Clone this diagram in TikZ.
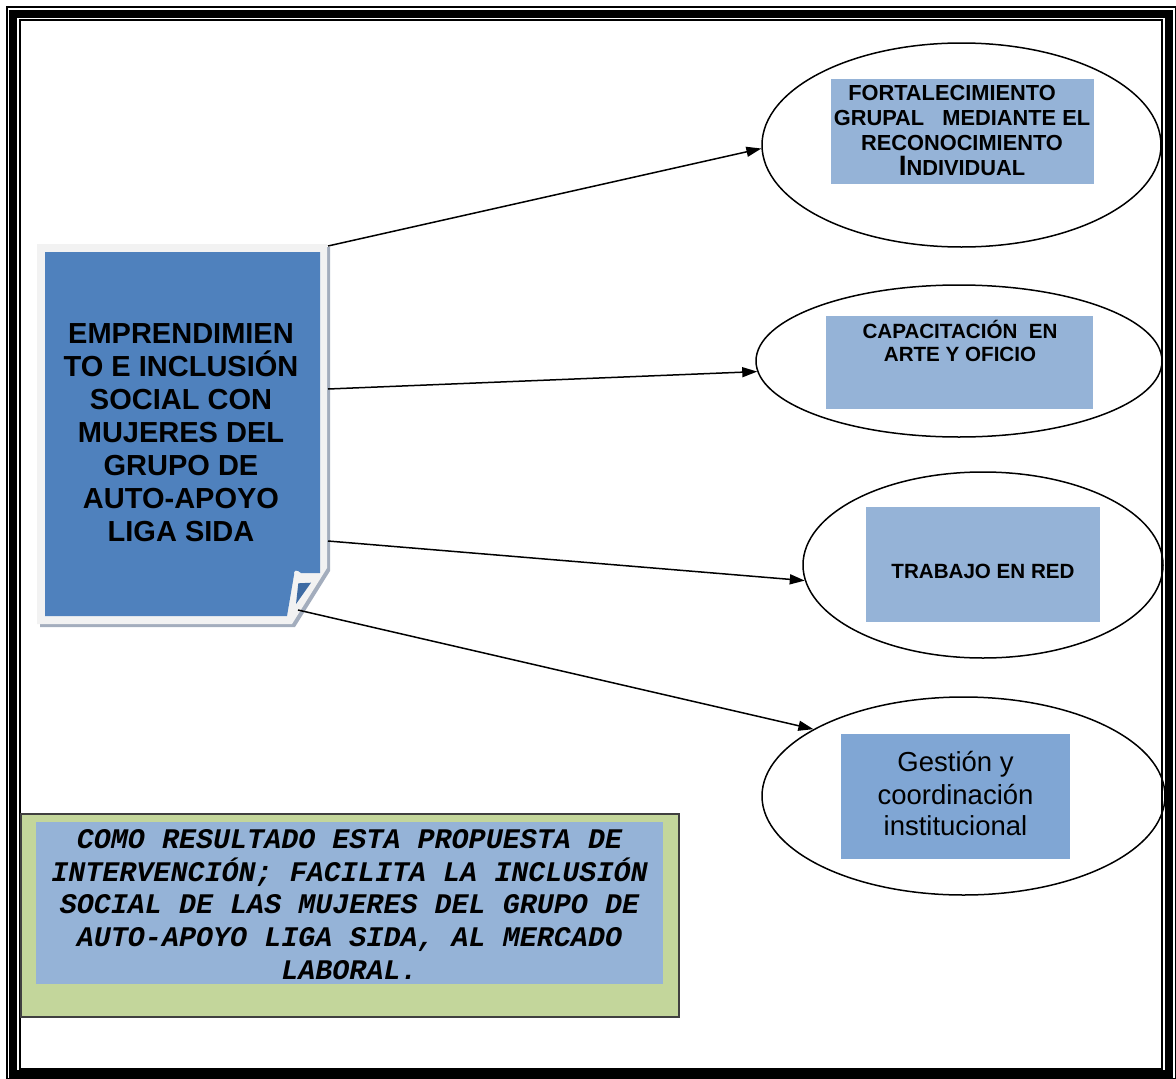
\documentclass[tikz,border=0pt]{standalone}
\usepackage{fontspec}
\setmainfont{Liberation Sans}
\newfontfamily\cour{Liberation Mono}
\usetikzlibrary{shapes.geometric,arrows.meta}
\definecolor{mainblue}{HTML}{4F81BD}
\definecolor{lblue}{HTML}{95B3D7}
\definecolor{mblue}{HTML}{80A6D4}
\definecolor{lgreen}{HTML}{C3D69B}
\definecolor{framegray}{HTML}{F2F2F2}
\definecolor{shadowgray}{HTML}{A3ADBD}
\definecolor{darkfold}{HTML}{3E6BA3}
\begin{document}
\begin{tikzpicture}[x=1pt,y=-1pt,
  oval/.style={draw=black,line width=1.5pt,ellipse,inner sep=0pt},
  inbox/.style={fill=lblue,inner sep=0pt,anchor=north west},
  conn/.style={line width=1.5pt,-{Triangle[length=15pt,width=10pt]}},
  lbl/.style={align=center,text=black,inner sep=0pt}]

\useasboundingbox (0,0) rectangle (1176,1079);
% page border
\draw[line width=2pt] (7,6.5) rectangle (1175.5,1078.5);
\draw[line width=8pt] (13,14) rectangle (1168.5,1074);
\draw[line width=2pt] (20,20) rectangle (1162,1069);

% ellipses
\node[oval,minimum width=399pt,minimum height=204pt] (e1) at (961.5,145) {};
\node[oval,minimum width=406pt,minimum height=152pt] (e2) at (959,361) {};
\node[oval,minimum width=360pt,minimum height=186pt] (e3) at (983,565) {};
\node[oval,minimum width=403pt,minimum height=198pt] (e4) at (963.5,796) {};

% inner boxes
\node[inbox,minimum width=263pt,minimum height=105pt] (r1) at (831,79) {};
\node[inbox,minimum width=267pt,minimum height=93pt] (r2) at (826,316) {};
\node[inbox,minimum width=234pt,minimum height=115pt] (r3) at (866,507) {};
\node[inbox,fill=mblue,minimum width=229pt,minimum height=125pt] (r4) at (841,734) {};

\node[lbl,font=\bfseries\fontsize{21.8}{25}\selectfont] (t1) at (962,130)
  {FORTALECIMIENTO\rule{20pt}{0pt}\\GRUPAL\ \ \ MEDIANTE EL\\RECONOCIMIENTO\\{\fontsize{28}{25}\selectfont I}NDIVIDUAL};
\node[lbl,font=\bfseries\fontsize{20.6}{23}\selectfont] (t2) at (960,341)
  {CAPACITACIÓN\ \ EN\\ARTE Y OFICIO};
\node[lbl,font=\bfseries\fontsize{20.6}{23}\selectfont] (t3) at (983,571)
  {TRABAJO EN RED};
\node[lbl,font=\fontsize{27.5}{32}\selectfont] (t4) at (955.5,794)
  {Gestión y\\coordinación\\institucional};

% main folded box
\fill[shadowgray] (40,247) -- (330,247) -- (330,571) -- (295,627) -- (40,627) -- cycle;
\fill[framegray] (37,244) -- (327,244) -- (327,568) -- (292,624) -- (37,624) -- cycle;
\fill[mainblue] (45,252) -- (320,252) -- (320,573) -- (301,573)
  .. controls (297,569) and (293,570) .. (294,575) -- (287,616) -- (45,616) -- cycle;
\fill[darkfold] (298.3,583.3) -- (311,582.7) -- (296,604) -- cycle;
\node[lbl,font=\bfseries\fontsize{29}{33}\selectfont] (main) at (181,432.5)
  {EMPRENDIMIEN\\TO E INCLUSIÓN\\SOCIAL CON\\MUJERES DEL\\GRUPO DE\\AUTO-APOYO\\LIGA SIDA};

% connector start points
\coordinate (s1) at (328,246);
\coordinate (s2) at (328,389);
\coordinate (s3) at (328,541);
\coordinate (s4) at (298,610);

\draw[conn] (s1) -- (e1.181);
\draw[conn] (s2) -- (e2.183);
\draw[conn] (s3) -- (e3.185);
\draw[conn] (s4) -- (e4.156);

% bottom result box
\node[draw=black!75,line width=1.5pt,fill=lgreen,minimum width=658pt,minimum height=203pt,anchor=north west,inner sep=0pt] (gbox) at (20,813) {};
\node[inbox,minimum width=627pt,minimum height=162pt] (bbox) at (36,822) {};
\node[lbl,font=\cour\bfseries\itshape\fontsize{28.4}{32.7}\selectfont] (btxt) at (349.5,904.5)
  {COMO RESULTADO ESTA PROPUESTA DE\\INTERVENCIÓN; FACILITA LA INCLUSIÓN\\SOCIAL DE LAS MUJERES DEL GRUPO DE\\AUTO-APOYO LIGA SIDA, AL MERCADO\\LABORAL.};
\end{tikzpicture}
\end{document}
